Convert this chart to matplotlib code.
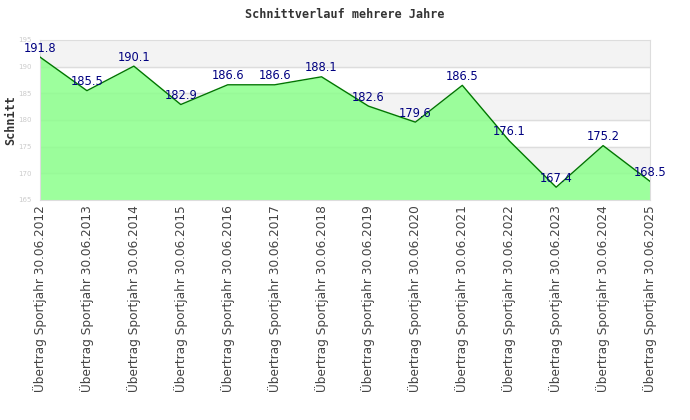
import matplotlib.pyplot as plt

# data
jahre = [2012, 2013, 2014, 2015, 2016, 2017, 2018, 2019, 2020, 2021, 2022, 2023, 2024, 2025]
labels = [f"Übertrag Sportjahr 30.06.{j}" for j in jahre]
schnitt = [191.8, 185.5, 190.1, 182.9, 186.6, 186.6, 188.1, 182.6, 179.6, 186.5, 176.1, 167.4, 175.2, 168.5]
y_ticks = [165, 170, 175, 180, 185, 190, 195]

fig = plt.figure(figsize=(6.9, 4.2), dpi=100)
ax = fig.add_axes([40/690, 1-200/420, 610/690, 160/420])

x = list(range(len(schnitt)))

# alternating bands
for i in range(len(y_ticks)-1):
    if (len(y_ticks)-2-i) % 2 == 0:
        ax.axhspan(y_ticks[i], y_ticks[i+1], color='#f3f3f3', zorder=0)
for t in y_ticks[1:-1]:
    ax.axhline(t, color='#dddddd', lw=1, zorder=1)

ax.fill_between(x, schnitt, 165, color='#8cff8c', alpha=0.85, lw=0, zorder=2)
ax.plot(x, schnitt, color='#007700', lw=1, zorder=3)

for xi, v in zip(x, schnitt):
    ax.annotate(f"{v}", (xi, v), xytext=(0, 6.5), textcoords='offset points',
                ha='center', va='center', color='#000080', fontsize=8.3, zorder=4)

ax.set_xlim(0, len(schnitt)-1)
ax.set_ylim(165, 195)
ax.set_yticks(y_ticks)
ax.set_xticks(x)
ax.set_xticklabels(labels, rotation=90, fontsize=8.7, color='#444444')
ax.tick_params(axis='y', labelsize=5, colors='#cccccc', length=0, pad=6)
ax.tick_params(axis='x', length=0, pad=4)
for s in ax.spines.values():
    s.set_color('#dddddd')

ax.set_ylabel("Schnitt", family='monospace', fontweight='bold', fontsize=8.5, color='#333333', labelpad=1)
fig.text(345/690, 1-14/420, "Schnittverlauf mehrere Jahre", family='monospace', fontweight='bold',
         fontsize=8.5, color='#333333', ha='center', va='center')

fig.savefig("out.png", dpi=100)
